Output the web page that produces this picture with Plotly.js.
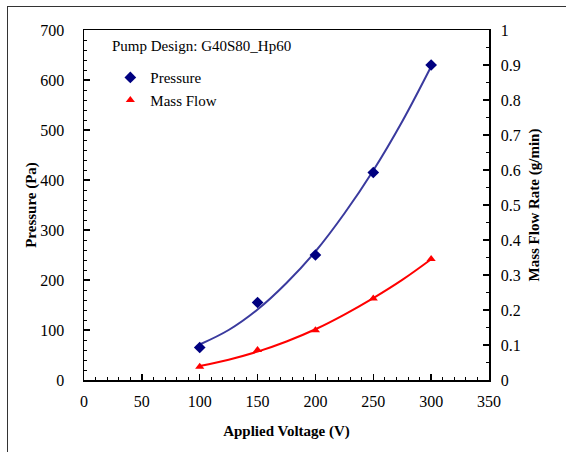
<!DOCTYPE html>
<html>
<head>
<meta charset="utf-8">
<script src="https://cdn.plot.ly/plotly-3.0.1.min.js"></script>
<style>
html,body{margin:0;padding:0;overflow:hidden;background:#fff;}
#wrap{position:relative;width:566px;height:452px;overflow:hidden;}
#frame{position:absolute;left:7px;top:6px;width:700px;height:700px;border:1px solid #333;pointer-events:none;}
#chart{position:absolute;left:0;top:0;width:566px;height:452px;}
</style>
</head>
<body>
<div id="wrap"><div id="chart"></div><div id="frame"></div></div>
<script>
// Measured data
const voltage = [100, 150, 200, 250, 300];
const pressure = [65, 155, 250, 415, 630];
const massFlow = [0.038, 0.086, 0.142, 0.233, 0.346];
// Trendlines
const fitVoltage = [100, 125, 150, 175, 200, 225, 250, 275, 300];
const pressureFit = [71, 100, 141, 194, 257, 333, 419, 517, 627];
const massFlowFit = [0.040, 0.058, 0.081, 0.110, 0.145, 0.187, 0.234, 0.286, 0.345];

const serif = 'Liberation Serif, Times New Roman, serif';

const traces = [
  {x: fitVoltage, y: pressureFit, mode: 'lines', line: {color: '#3a3a9e', width: 2, shape: 'spline'}, showlegend: false, hoverinfo: 'skip'},
  {x: fitVoltage, y: massFlowFit, yaxis: 'y2', mode: 'lines', line: {color: '#ff0000', width: 2, shape: 'spline'}, showlegend: false, hoverinfo: 'skip'},
  {x: voltage, y: pressure, name: 'Pressure', mode: 'markers', marker: {symbol: 'diamond', size: 9, color: '#000080'}},
  {x: voltage, y: massFlow, name: 'Mass Flow', yaxis: 'y2', mode: 'markers', marker: {symbol: 'triangle-up', size: 8, color: '#ff0000'}}
];

const layout = {
  width: 566, height: 452,
  margin: {l: 84, r: 77, t: 30, b: 72},
  paper_bgcolor: '#fff', plot_bgcolor: '#fff',
  font: {family: serif, size: 15, color: '#000'},
  showlegend: true,
  legend: {x: 0.065, y: 0.911, xanchor: 'left', yanchor: 'top', bgcolor: 'rgba(0,0,0,0)', font: {family: serif, size: 15}, tracegroupgap: 4, itemwidth: 30},
  xaxis: {
    range: [0, 350], dtick: 50, tick0: 0,
    showline: true, linecolor: '#000', linewidth: 1.5, mirror: true,
    ticks: 'inside', ticklen: 6, tickcolor: '#000', tickwidth: 1.5,
    minor: {dtick: 10, ticks: 'inside', ticklen: 3, tickcolor: '#000', tickwidth: 1},
    showgrid: false, zeroline: false,
    tickfont: {family: serif, size: 16}, ticklabelstandoff: 6,
    title: {text: '<b>Applied Voltage (V)</b>', font: {family: serif, size: 15}, standoff: 17}
  },
  yaxis: {
    range: [0, 700], dtick: 100, tick0: 0,
    showline: true, linecolor: '#000', linewidth: 1.5,
    ticks: 'inside', ticklen: 6, tickcolor: '#000', tickwidth: 1.5,
    minor: {dtick: 20, ticks: 'inside', ticklen: 3, tickcolor: '#000', tickwidth: 1},
    showgrid: false, zeroline: false,
    tickfont: {family: serif, size: 16}, ticklabelstandoff: 15,
    title: {text: '<b>Pressure (Pa)</b>', font: {family: serif, size: 15}, standoff: 0}
  },
  yaxis2: {
    overlaying: 'y', side: 'right',
    range: [0, 1], dtick: 0.1, tick0: 0,
    showline: true, linecolor: '#000', linewidth: 1.5,
    ticks: 'inside', ticklen: 6, tickcolor: '#000', tickwidth: 1.5,
    minor: {dtick: 0.05, ticks: 'inside', ticklen: 3, tickcolor: '#000', tickwidth: 1},
    showgrid: false, zeroline: false,
    tickfont: {family: serif, size: 16}, ticklabelstandoff: 7,
    title: {text: '<b>Mass Flow Rate (g/min)</b>', font: {family: serif, size: 15}, standoff: 9}
  },
  annotations: [{
    xref: 'paper', yref: 'paper', x: 0.063, y: 0.955, xanchor: 'left', yanchor: 'middle',
    text: 'Pump Design: G40S80_Hp60', showarrow: false, font: {family: serif, size: 15}
  }]
};

Plotly.newPlot('chart', traces, layout, {displayModeBar: false, staticPlot: true});
</script>
</body>
</html>
